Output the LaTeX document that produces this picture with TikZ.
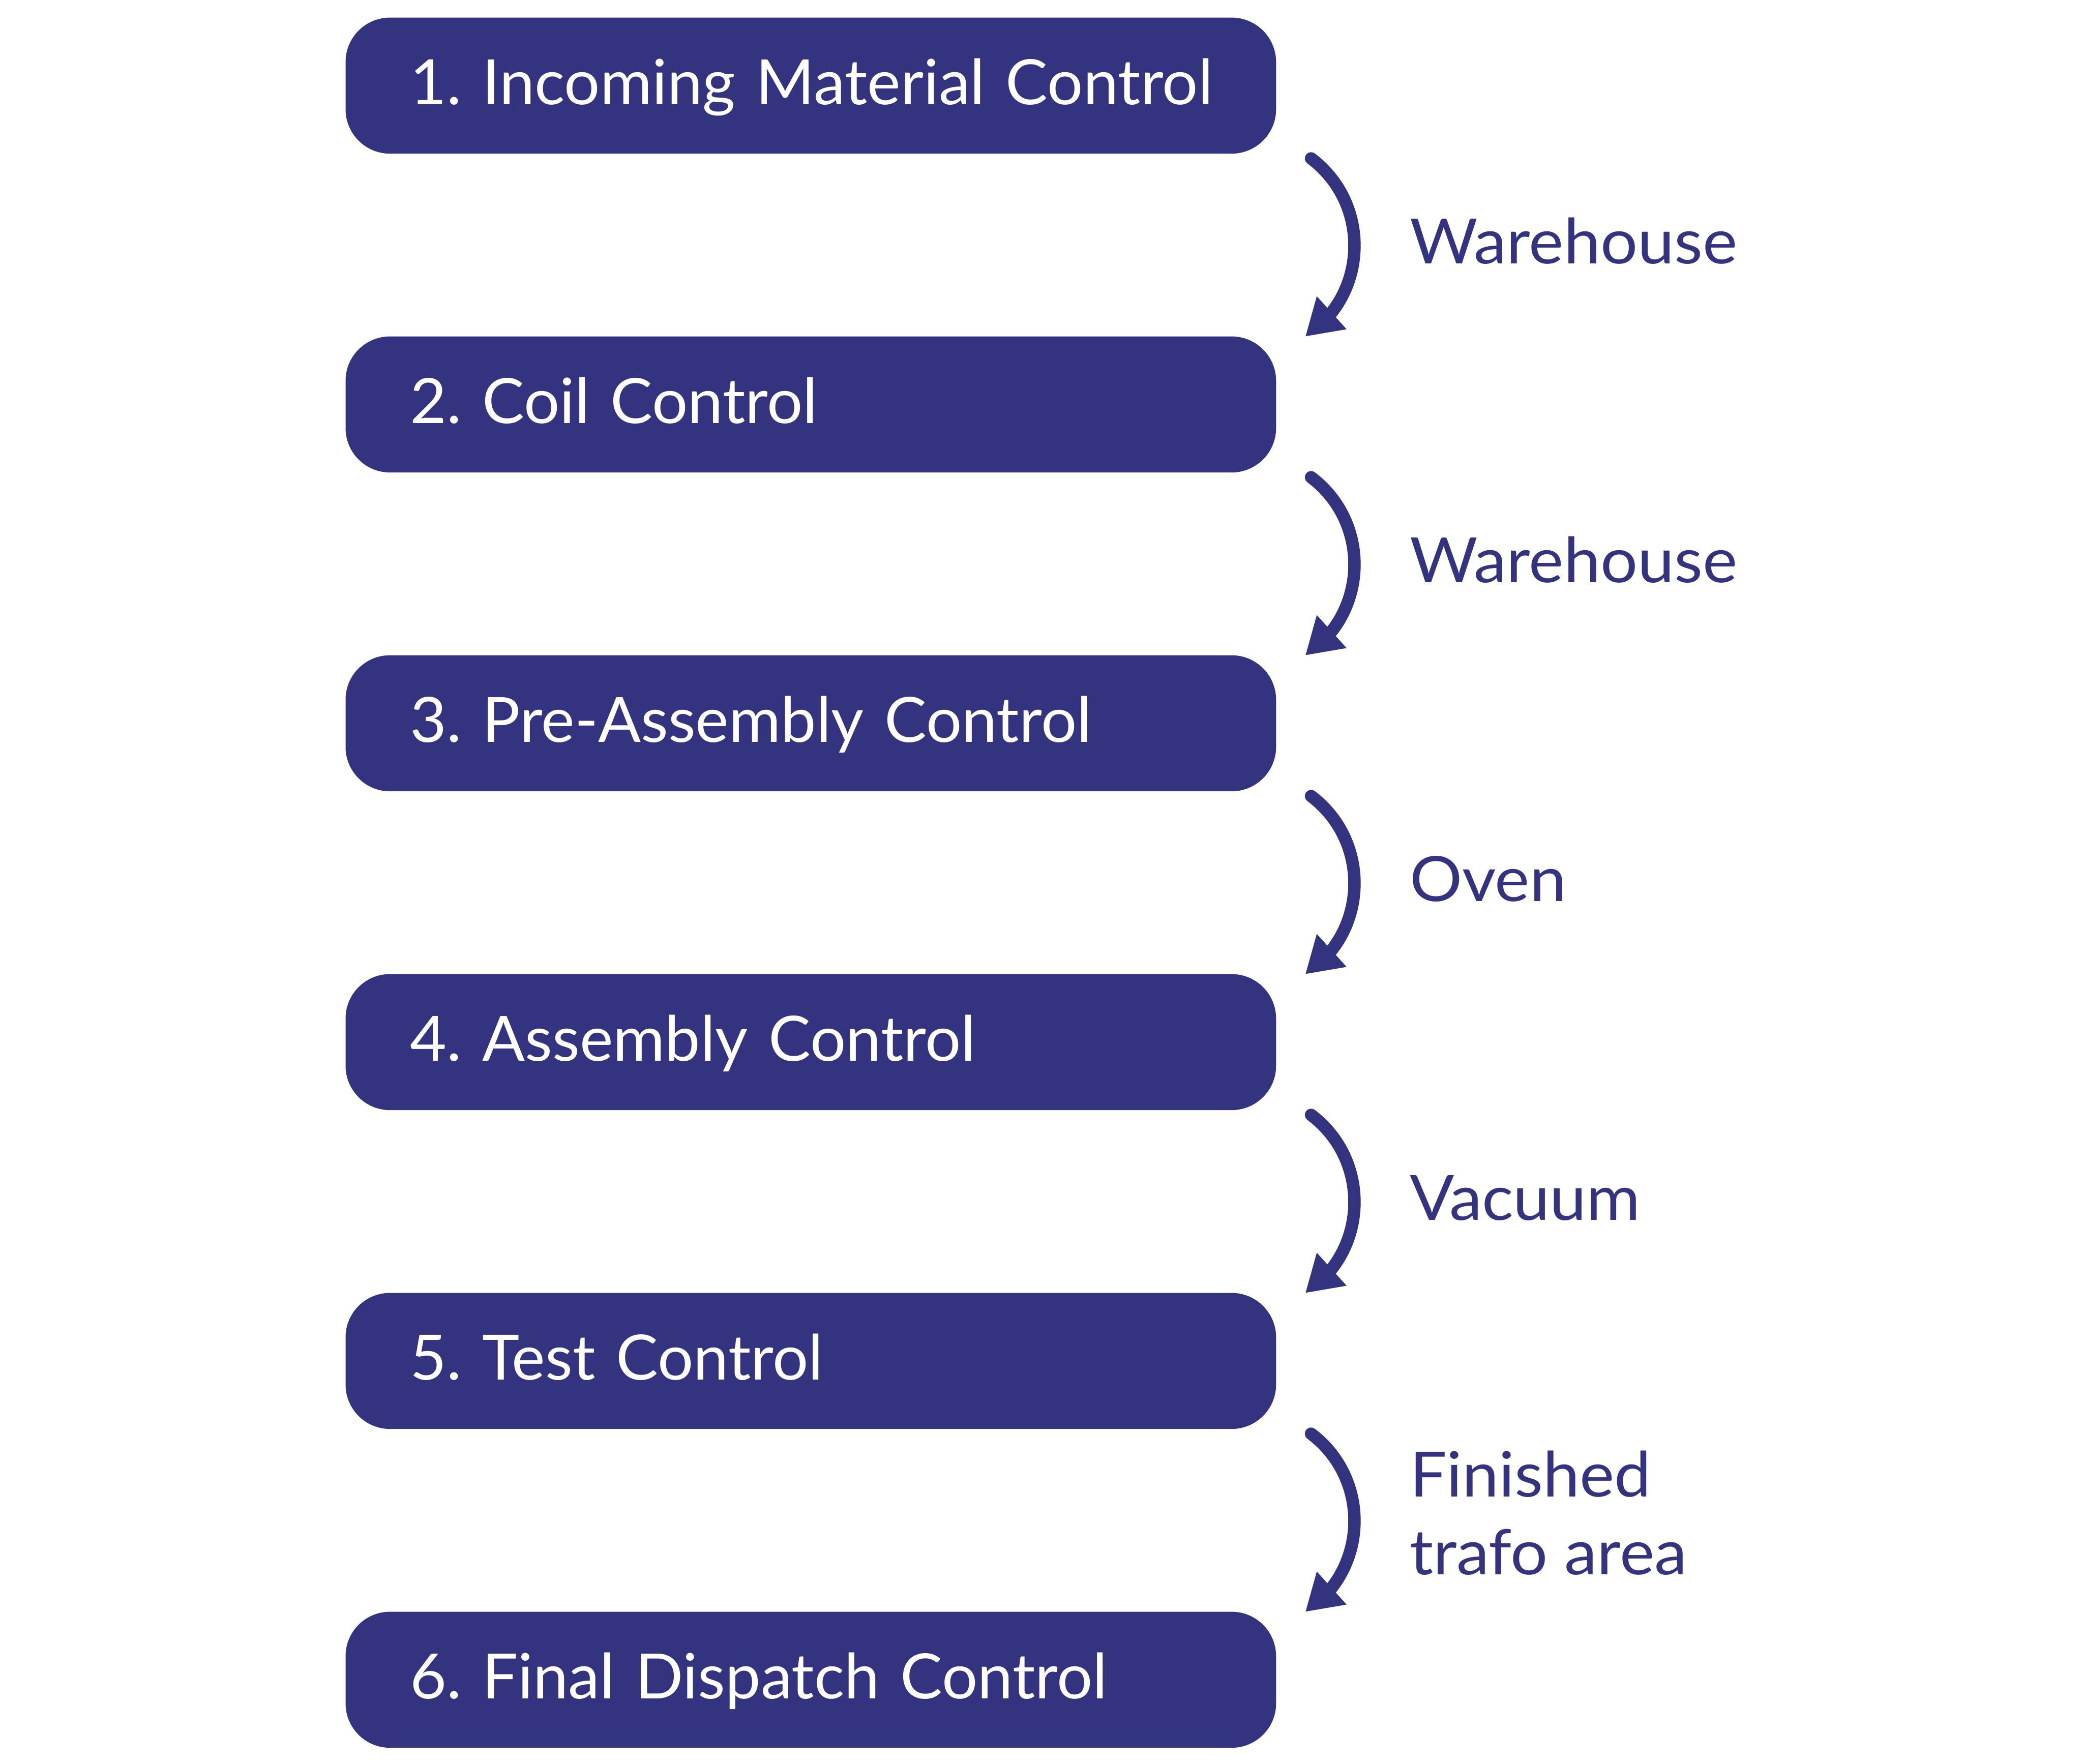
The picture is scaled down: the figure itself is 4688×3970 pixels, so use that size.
\documentclass[tikz,border=0pt]{standalone}
\usepackage{fontspec}
\setmainfont{Lato}[FakeStretch=1.05]
\newfontfamily\boxfont{Lato}[FakeStretch=1.01]
\usetikzlibrary{arrows.meta,bending,calc}
\definecolor{navy}{RGB}{51,51,128}
\frenchspacing
\tikzset{
  stepbox/.style={rectangle, fill=navy, rounded corners=1cm,
    minimum width=20.93cm, minimum height=3.06cm,
    inner xsep=0pt, inner ysep=0pt, text width=20.93cm, align=left,
    text height=0.86cm, text depth=0pt, text=white,
    execute at begin node={\hspace*{1.45cm}},
    font=\boxfont\fontsize{40}{48}\selectfont, anchor=north west},
  lab/.style={text=navy, font=\fontsize{40}{50}\selectfont, anchor=base west, inner sep=0pt},
  conn/.style={draw=navy, line width=0.28cm, line cap=round,
    -{Triangle[length=0.8cm,width=0.94cm]}},
}
\begin{document}
\begin{tikzpicture}[x=0.01cm,y=0.01cm]
\fill[white] (0,0) rectangle (4688,3970);
\useasboundingbox (0,0) rectangle (4688,3970);
\node[stepbox] (b1) at (777,3931)   {1. Incoming Material Control};
\node[stepbox] (b2) at (777,3213.4) {2. Coil Control};
\node[stepbox] (b3) at (777,2495.8) {3. Pre-Assembly Control};
\node[stepbox] (b4) at (777,1778.2) {4. Assembly Control};
\node[stepbox] (b5) at (777,1060.6) {5. Test Control};
\node[stepbox] (b6) at (777,343)    {6. Final Dispatch Control};
\foreach \a/\b in {b1/b2,b2/b3,b3/b4,b4/b5,b5/b6}{
  \coordinate (s\a) at ([shift={(78,-10)}]\a.south east);
  \coordinate (t\a) at ([shift={(65,-1)}]\b.north east);
  \draw[conn] (s\a) to[out=-37,in=33,looseness=1.08] (t\a);
}
\node[lab] (l1) at (3172,3376)   {Warehouse};
\node[lab] (l2) at (3172,2658.4) {Warehouse};
\node[lab] (l3) at (3172,1940.8) {Oven};
\node[lab] (l4) at (3172,1223.2) {Vacuum};
\node[lab] (l5a) at (3172,601)   {Finished};
\node[lab] (l5b) at (3172,426)   {trafo area};
\end{tikzpicture}
\end{document}
